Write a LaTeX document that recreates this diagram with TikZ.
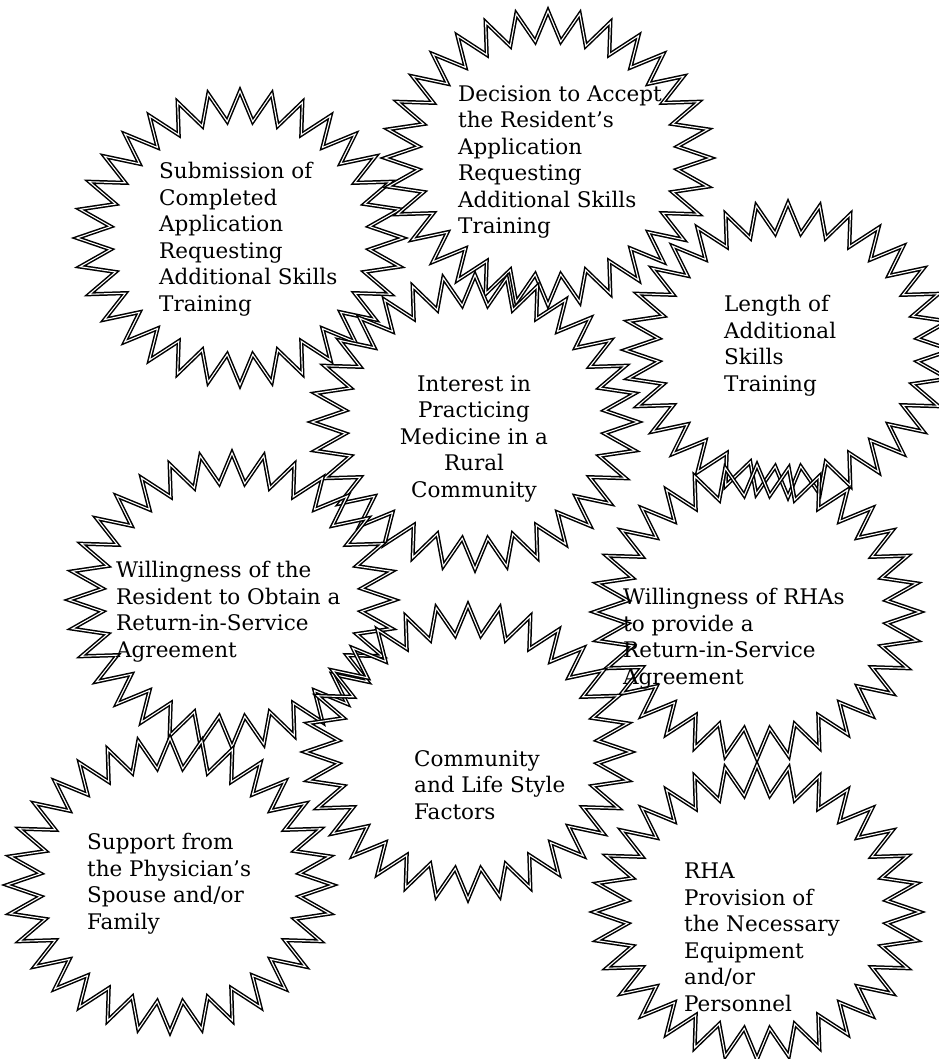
\documentclass[tikz,border=0pt]{standalone}
\usepackage{fontspec}
\setmainfont{DejaVu Serif}
\begin{document}
\begin{tikzpicture}[x=1pt, y=-1pt,
    burst/.style={draw, double, line width=1.5pt, double distance=1.1pt, line join=miter},
    factor/.style={font=\fontsize{21.5}{26.5}\selectfont, align=left, anchor=north west, inner sep=0pt}
  ]
  \useasboundingbox (0,0) rectangle (938,1059);

  \foreach \i/\x/\y in {1/240/238, 2/548/158, 3/788/350, 4/475/422, 5/232/600,
                        6/757/612, 7/468/752, 8/170/885, 9/757/912} {
    \coordinate (S\i) at (\x,\y);
    \draw[burst, shift={(S\i)}] (0:163 and 147)
      \foreach \k in {0,...,31} { -- ({\k*11.25+5.625}:130 and 117) -- ({\k*11.25+11.25}:163 and 147) } -- cycle;
  }

  \foreach \i/\x/\y/\txt in {
      1/159/162/{Submission of\\Completed\\Application\\Requesting\\Additional Skills\\Training},
      2/458/85/{Decision to Accept\\the Resident’s\\Application\\Requesting\\Additional Skills\\Training},
      3/724/295/{Length of\\Additional\\Skills\\Training},
      5/116/561/{Willingness of the\\Resident to Obtain a\\Return-in-Service\\Agreement},
      6/623/588/{Willingness of RHAs\\to provide a\\Return-in-Service\\Agreement},
      7/414/750/{Community\\and Life Style\\Factors},
      8/87/833/{Support from\\the Physician’s\\Spouse and/or\\Family},
      9/684/863/{RHA\\Provision of\\the Necessary\\Equipment\\and/or\\Personnel}} {
    \node[factor] (F\i) at (\x,\y) {\txt};
  }
  \node[factor, align=center, anchor=north] (F4) at (474,375)
    {Interest in\\Practicing\\Medicine in a\\Rural\\Community};
\end{tikzpicture}
\end{document}
